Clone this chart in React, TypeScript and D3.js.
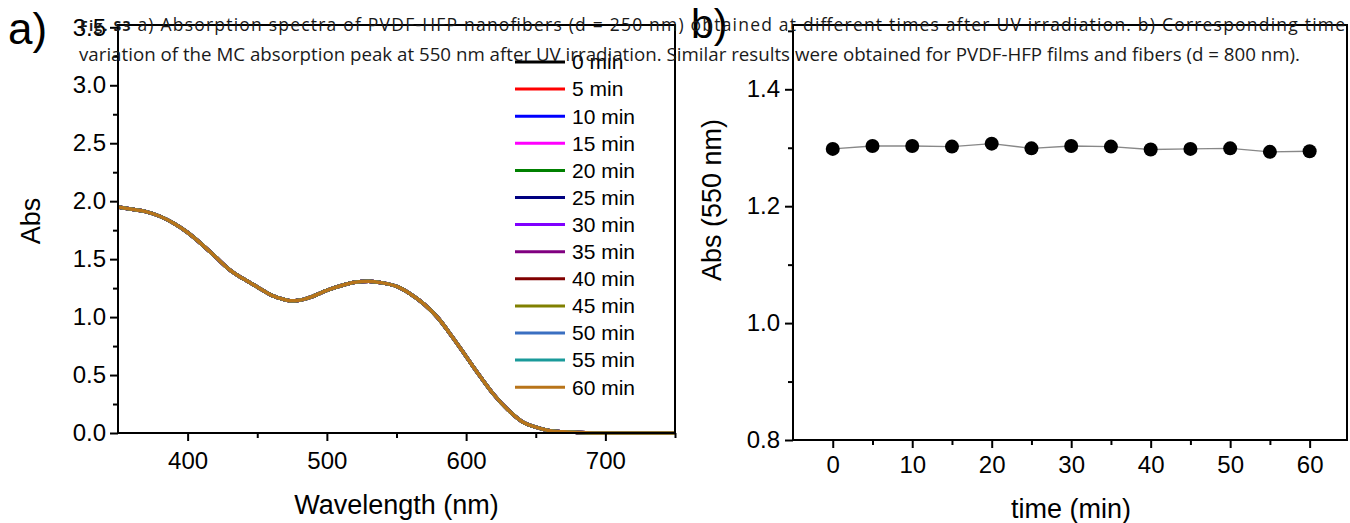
import React, { useEffect, useRef } from "react";
import * as d3 from "d3";

// panel a: spectrum (all 13 curves coincide within a pixel)
const wavelengths = [
  350, 360, 370, 380, 390, 400, 410, 420, 430, 440, 450, 460, 470, 475, 480,
  490, 500, 510, 520, 530, 540, 550, 560, 570, 580, 590, 600, 610, 620, 630,
  640, 650, 660, 670, 680, 700, 720, 750,
];
const absorbance = [
  1.95, 1.93, 1.91, 1.87, 1.81, 1.73, 1.63, 1.52, 1.41, 1.33, 1.26, 1.19,
  1.15, 1.14, 1.145, 1.18, 1.23, 1.27, 1.3, 1.31, 1.295, 1.265, 1.2, 1.11,
  0.99, 0.83, 0.66, 0.49, 0.33, 0.2, 0.1, 0.05, 0.02, 0.01, 0.005, 0.0, 0.0,
  0.0,
];
const seriesLabels = [
  "0 min", "5 min", "10 min", "15 min", "20 min", "25 min", "30 min",
  "35 min", "40 min", "45 min", "50 min", "55 min", "60 min",
];
const seriesColors = [
  "#000000", "#ff0000", "#0000ff", "#ff00ff", "#008000", "#000080", "#8000ff",
  "#800080", "#800000", "#808000", "#3a6fc1", "#1a9a9a", "#b8741a",
];

// panel b: MC peak at 550 nm vs time
const times = [0, 5, 10, 15, 20, 25, 30, 35, 40, 45, 50, 55, 60];
const abs550 = [
  1.298, 1.303, 1.303, 1.302, 1.307, 1.299, 1.303, 1.302, 1.297, 1.298, 1.299,
  1.293, 1.294,
];

const xTicksA = [400, 500, 600, 700];
const xMinorA = [450, 550, 650, 750];
const yTicksA = [0, 0.5, 1.0, 1.5, 2.0, 2.5, 3.0, 3.5];
const yMinorA = [0.25, 0.75, 1.25, 1.75, 2.25, 2.75, 3.25];
const xTicksB = [0, 10, 20, 30, 40, 50, 60];
const xMinorB = [5, 15, 25, 35, 45, 55];
const yTicksB = [0.8, 1.0, 1.2, 1.4];
const yMinorB = [0.9, 1.1, 1.3, 1.5];

const captionBold = "Fig. S3";
const captionLine1 =
  " a) Absorption spectra of PVDF-HFP nanofibers (d = 250 nm) obtained at different times  after UV irradiation. b) Corresponding time";
const captionLine2 =
  "variation of the MC absorption peak at 550 nm after UV irradiation. Similar results were obtained for PVDF-HFP films and fibers (d = 800 nm).";

const FONT = "Liberation Sans, Arial, sans-serif";
const CAP_FONT = "Open Sans, sans-serif";

export default function App() {
  const svgRef = useRef<SVGSVGElement>(null);

  useEffect(() => {
    const svg = d3.select(svgRef.current);
    svg.selectAll("*").remove();

    const styleAxis = (g: any, fontSize: number) => {
      g.select(".domain").remove();
      g.selectAll("line").attr("stroke", "#000").attr("stroke-width", 2);
      g.selectAll("text")
        .attr("font-size", fontSize)
        .attr("font-family", FONT)
        .attr("fill", "#000");
    };

    // ---------- panel a ----------
    const xA = d3.scaleLinear().domain([350, 750]).range([118, 675]);
    const yA = d3.scaleLinear().domain([0, 3.52]).range([433, 25]);

    const line = d3
      .line<[number, number]>()
      .x((d) => xA(d[0]))
      .y((d) => yA(d[1]))
      .curve(d3.curveMonotoneX);
    const spectrum = d3.zip(wavelengths, absorbance) as [number, number][];

    seriesLabels.forEach((_, i) => {
      svg
        .append("path")
        .datum(spectrum)
        .attr("d", line)
        .attr("fill", "none")
        .attr("stroke", seriesColors[i])
        .attr("stroke-width", 3.5);
    });

    const gxA = svg
      .append("g")
      .attr("transform", `translate(0,${yA(0)})`)
      .call(
        d3.axisBottom(xA).tickValues(xTicksA).tickSize(8).tickPadding(11).tickFormat(d3.format("d"))
      );
    styleAxis(gxA, 24);
    const gxAm = svg
      .append("g")
      .attr("transform", `translate(0,${yA(0)})`)
      .call(d3.axisBottom(xA).tickValues(xMinorA).tickSize(5).tickFormat(() => ""));
    styleAxis(gxAm, 24);

    const gyA = svg
      .append("g")
      .attr("transform", `translate(${xA(350)},0)`)
      .call(
        d3.axisLeft(yA).tickValues(yTicksA).tickSize(8).tickPadding(4).tickFormat(d3.format(".1f"))
      );
    styleAxis(gyA, 24);
    const gyAm = svg
      .append("g")
      .attr("transform", `translate(${xA(350)},0)`)
      .call(d3.axisLeft(yA).tickValues(yMinorA).tickSize(5).tickFormat(() => ""));
    styleAxis(gyAm, 24);

    svg
      .append("rect")
      .attr("x", xA(350))
      .attr("y", yA(3.52))
      .attr("width", xA(750) - xA(350))
      .attr("height", yA(0) - yA(3.52))
      .attr("fill", "none")
      .attr("stroke", "#000")
      .attr("stroke-width", 2);

    // legend
    const leg = svg.append("g").attr("transform", "translate(515,62)");
    seriesLabels.forEach((lab, i) => {
      const row = leg.append("g").attr("transform", `translate(0,${i * 27.1})`);
      row
        .append("line")
        .attr("x1", 0)
        .attr("x2", 50)
        .attr("stroke", seriesColors[i])
        .attr("stroke-width", 3);
      row
        .append("text")
        .attr("x", 57)
        .attr("dy", "0.35em")
        .attr("font-size", 21)
        .attr("font-family", FONT)
        .text(lab);
    });

    svg
      .append("text")
      .attr("transform", "translate(40,221) rotate(-90)")
      .attr("text-anchor", "middle")
      .attr("font-size", 27)
      .attr("font-family", FONT)
      .text("Abs");
    svg
      .append("text")
      .attr("x", (xA(350) + xA(750)) / 2)
      .attr("y", 514)
      .attr("text-anchor", "middle")
      .attr("font-size", 27)
      .attr("font-family", FONT)
      .text("Wavelength (nm)");

    // ---------- panel b ----------
    const xB = d3.scaleLinear().domain([-5, 64.7]).range([793, 1347]);
    const yB = d3.scaleLinear().domain([0.8, 1.51]).range([440, 25]);
    const pts = d3.zip(times, abs550) as [number, number][];

    svg
      .append("path")
      .datum(pts)
      .attr(
        "d",
        d3
          .line<[number, number]>()
          .x((d) => xB(d[0]))
          .y((d) => yB(d[1]))
      )
      .attr("fill", "none")
      .attr("stroke", "#888")
      .attr("stroke-width", 1.3);
    svg
      .append("g")
      .selectAll("circle")
      .data(pts)
      .enter()
      .append("circle")
      .attr("cx", (d) => xB(d[0]))
      .attr("cy", (d) => yB(d[1]))
      .attr("r", 7)
      .attr("fill", "#000");

    const gxB = svg
      .append("g")
      .attr("transform", `translate(0,${yB(0.8)})`)
      .call(d3.axisBottom(xB).tickValues(xTicksB).tickSize(8).tickPadding(8).tickFormat(d3.format("d")));
    styleAxis(gxB, 24);
    const gxBm = svg
      .append("g")
      .attr("transform", `translate(0,${yB(0.8)})`)
      .call(d3.axisBottom(xB).tickValues(xMinorB).tickSize(5).tickFormat(() => ""));
    styleAxis(gxBm, 24);

    const gyB = svg
      .append("g")
      .attr("transform", `translate(${xB(-5)},0)`)
      .call(d3.axisLeft(yB).tickValues(yTicksB).tickSize(8).tickPadding(5).tickFormat(d3.format(".1f")));
    styleAxis(gyB, 24);
    const gyBm = svg
      .append("g")
      .attr("transform", `translate(${xB(-5)},0)`)
      .call(d3.axisLeft(yB).tickValues(yMinorB).tickSize(5).tickFormat(() => ""));
    styleAxis(gyBm, 24);

    svg
      .append("rect")
      .attr("x", xB(-5))
      .attr("y", yB(1.51))
      .attr("width", xB(64.7) - xB(-5))
      .attr("height", yB(0.8) - yB(1.51))
      .attr("fill", "none")
      .attr("stroke", "#000")
      .attr("stroke-width", 2);

    svg
      .append("text")
      .attr("transform", "translate(721,200) rotate(-90)")
      .attr("text-anchor", "middle")
      .attr("font-size", 27)
      .attr("font-family", FONT)
      .text("Abs (550 nm)");
    svg
      .append("text")
      .attr("x", 1071)
      .attr("y", 518)
      .attr("text-anchor", "middle")
      .attr("font-size", 27)
      .attr("font-family", FONT)
      .text("time (min)");

    // panel letters
    svg
      .append("text")
      .attr("x", 8)
      .attr("y", 44)
      .attr("font-size", 44)
      .attr("font-family", FONT)
      .text("a)");
    svg
      .append("text")
      .attr("x", 691)
      .attr("y", 38)
      .attr("font-size", 41)
      .attr("font-family", FONT)
      .text("b)");

    // caption overlaid on the figure
    const cap1 = svg
      .append("text")
      .attr("x", 80)
      .attr("y", 31)
      .attr("font-size", 17.5)
      .attr("font-family", CAP_FONT)
      .attr("fill", "#1a1a1a")
      .attr("textLength", 1265)
      .attr("lengthAdjust", "spacing");
    cap1.append("tspan").attr("font-weight", "bold").attr("font-size", 14).text(captionBold);
    cap1.append("tspan").text(captionLine1);
    svg
      .append("text")
      .attr("x", 79)
      .attr("y", 61)
      .attr("font-size", 17.5)
      .attr("font-family", CAP_FONT)
      .attr("fill", "#1a1a1a")
      .attr("textLength", 1221)
      .attr("lengthAdjust", "spacingAndGlyphs")
      .text(captionLine2);
  }, []);

  return (
    <svg
      ref={svgRef}
      width={1350}
      height={523}
      style={{ position: "absolute", left: 0, top: 0, background: "#fff" }}
    />
  );
}
